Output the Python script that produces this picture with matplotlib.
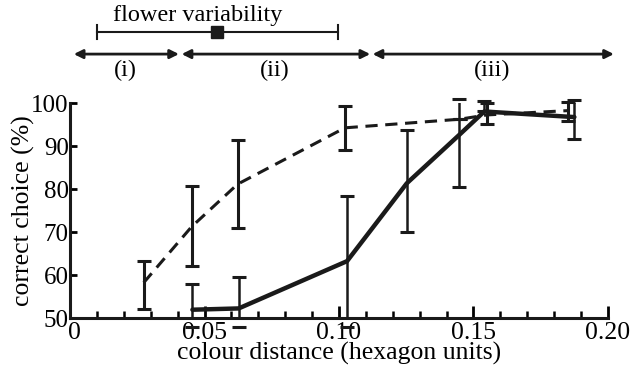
import matplotlib
matplotlib.use("Agg")
import matplotlib.pyplot as plt
import matplotlib.transforms as mtransforms
from matplotlib.ticker import MultipleLocator

plt.rcParams['font.family'] = ['Liberation Serif', 'DejaVu Serif']

# Dashed series
dash_x = [0.0274, 0.0452, 0.0623, 0.1022, 0.1448, 0.1550, 0.1850]
dash_y = [58.3, 71.3, 81.2, 94.3, 96.3, 97.3, 98.3]
dash_hi = [63.3, 80.8, 91.5, 99.4, 96.3, 100.0, 100.2]
dash_lo = [52.2, 62.2, 71.1, 89.1, 96.3, 95.3, 96.0]

# Solid series
sol_x = [0.0455, 0.0627, 0.1030, 0.1252, 0.1446, 0.1540, 0.1875]
sol_y = [52.0, 52.3, 63.3, 81.4, 92.6, 98.1, 96.8]
sol_hi = [58.0, 59.7, 78.5, 93.7, 101.0, 100.5, 100.8]
sol_lo = [48.0, 48.0, 48.0, 70.0, 80.6, 98.1, 91.6]

x_ticks = [0, 0.05, 0.10, 0.15, 0.20]
x_ticklabels = ['0', '0.05', '0.10', '0.15', '0.20']
y_ticks = [50, 60, 70, 80, 90, 100]

# annotation data
var_range = (0.0100, 0.0995)
var_center = 0.0545
regions = [(0.0014, 0.0405, '(i)'), (0.0415, 0.1116, '(ii)'), (0.1125, 0.2022, '(iii)')]

fig = plt.figure(figsize=(6.32, 3.73), dpi=100)
ax = fig.add_axes([0.1108, 0.1466, 0.962 - 0.1108, 0.723 - 0.1466])

ax.set_xlim(0, 0.20)
ax.set_ylim(50, 100)

def errs(y, lo, hi):
    return [[yy - l for yy, l in zip(y, lo)], [h - yy for yy, h in zip(y, hi)]]

ax.plot(dash_x, dash_y, color='#1a1a1a', lw=2.2, ls=(0, (4, 2.5)), clip_on=False, zorder=3)
e1 = ax.errorbar(dash_x, dash_y, yerr=errs(dash_y, dash_lo, dash_hi), fmt='none',
                 ecolor='#1a1a1a', elinewidth=2.2, capsize=5, capthick=2.2, zorder=3)
ax.plot(sol_x, sol_y, color='#1a1a1a', lw=3.2, solid_capstyle='round', clip_on=False, zorder=4)
e2 = ax.errorbar(sol_x, sol_y, yerr=errs(sol_y, sol_lo, sol_hi), fmt='none',
                 ecolor='#1a1a1a', elinewidth=1.8, capsize=5, capthick=2.2, zorder=4)
for e in (e1, e2):
    for c in e.lines[1]:
        c.set_clip_on(False)
    for c in e.lines[2]:
        c.set_clip_on(True)

for s in ['top', 'right']:
    ax.spines[s].set_visible(False)
for s in ['left', 'bottom']:
    ax.spines[s].set_linewidth(2.2)
    ax.spines[s].set_color('#1a1a1a')

ax.set_xticks(x_ticks)
ax.set_xticklabels(x_ticklabels)
ax.xaxis.set_minor_locator(MultipleLocator(0.01))
ax.set_yticks(y_ticks)
ax.tick_params(axis='x', which='major', direction='in', length=9, width=2, labelsize=18.5, pad=2.5)
ax.tick_params(axis='x', which='minor', direction='in', length=5, width=1.8)
ax.tick_params(axis='y', which='major', direction='in', length=5, width=2, labelsize=18, pad=1)
ax.set_xlabel('colour distance (hexagon units)', fontsize=18.5, labelpad=-1)
ax.set_ylabel('correct choice (%)', fontsize=18.5, labelpad=-3)

# nudge the x "0" label right so it clears the y "50" label
offset = mtransforms.ScaledTranslation(3 / 72, 0, fig.dpi_scale_trans)
xl0 = ax.get_xticklabels()[0]
xl0.set_transform(xl0.get_transform() + offset)

trans = mtransforms.blended_transform_factory(ax.transData, fig.transFigure)
ax.text(0.0475, 0.958, 'flower variability', transform=trans, ha='center', va='center', fontsize=17.5)
ax.plot(list(var_range), [0.914, 0.914], transform=trans, color='#1a1a1a', lw=1.5, clip_on=False)
for xv in var_range:
    ax.plot([xv, xv], [0.896, 0.932], transform=trans, color='#1a1a1a', lw=1.5, clip_on=False)
ax.plot([var_center], [0.914], transform=trans, marker='s', ms=8, color='#1a1a1a', clip_on=False)

for x0, x1, lab in regions:
    ax.annotate('', xy=(x1, 0.855), xytext=(x0, 0.855), xycoords=trans, textcoords=trans,
                arrowprops=dict(arrowstyle='<|-|>', color='#1a1a1a', lw=2, mutation_scale=13,
                                shrinkA=0, shrinkB=0), annotation_clip=False)
    ax.text((x0 + x1) / 2 - 0.0005, 0.812, lab, transform=trans, ha='center', va='center', fontsize=17.5)

fig.savefig('out.png', dpi=100)
